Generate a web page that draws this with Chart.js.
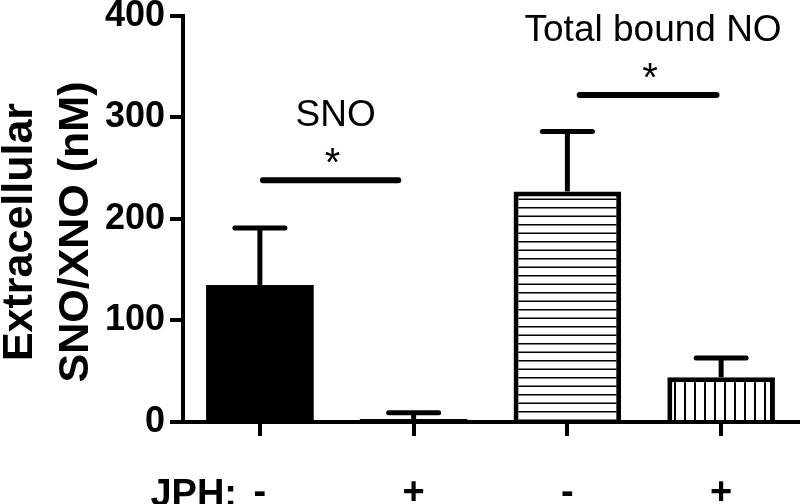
<!DOCTYPE html>
<html>
<head>
<meta charset="utf-8">
<script src="https://cdn.jsdelivr.net/npm/chart.js@4.4.0/dist/chart.umd.min.js"></script>
<style>
    html, body { margin: 0; padding: 0; background: #fff; }
</style>
</head>
<body>
<canvas id="canva" width="800" height="504"></canvas>
<script>
// datos
const categorias = ['-', '+', '-', '+'];
const valores = [135, 3, 227, 44];
const errores = [56, 6, 59, 19];
const ticksY = [0, 100, 200, 300, 400];
// lineas de significancia (posicion en categorias y altura en nM)
const sigTextos = ['SNO', 'Total bound NO'];
const sigDesde = [0.02, 2.08];
const sigHasta = [0.9, 2.97];
const sigAltura = [238, 322];
const tituloY = ['Extracellular', 'SNO/XNO (nM)'];
const tituloX = 'JPH:';

const fuente = "'Liberation Sans', Arial, sans-serif";
const ctx = document.getElementById("canva").getContext("2d");

function rayas(horizontal) {
    const c = document.createElement('canvas');
    c.width = horizontal ? 4 : 10;
    c.height = horizontal ? 17 : 4;
    const g = c.getContext('2d');
    g.fillStyle = '#fff';
    g.fillRect(0, 0, c.width, c.height);
    g.fillStyle = '#000';
    if (horizontal) {
        g.fillRect(0, 3, 4, 1.5);
        g.fillRect(0, 11.5, 4, 1.5);
    } else {
        g.fillRect(4, 0, 2, 4);
    }
    return ctx.createPattern(c, 'repeat');
}

const errorBars = {
    id: 'errorBars',
    afterDatasetsDraw(chart) {
        const c = chart.ctx;
        const y = chart.scales.y;
        const meta = chart.getDatasetMeta(0);
        c.save();
        c.strokeStyle = '#000';
        c.lineWidth = 5;
        meta.data.forEach((bar, i) => {
            const top = y.getPixelForValue(valores[i] + errores[i]);
            c.lineCap = 'butt';
            c.beginPath();
            c.moveTo(bar.x, bar.y);
            c.lineTo(bar.x, top);
            c.stroke();
            c.lineCap = 'round';
            c.beginPath();
            c.moveTo(bar.x - 25, top);
            c.lineTo(bar.x + 25, top);
            c.stroke();
        });
        c.restore();
    }
};

const anotaciones = {
    id: 'anotaciones',
    afterDraw(chart) {
        const c = chart.ctx;
        const x = chart.scales.x;
        const y = chart.scales.y;
        c.save();
        c.fillStyle = '#000';
        c.strokeStyle = '#000';
        // significancia
        sigTextos.forEach((txt, i) => {
            const x1 = x.getPixelForValue(sigDesde[i]);
            const x2 = x.getPixelForValue(sigHasta[i]);
            const yy = y.getPixelForValue(sigAltura[i]);
            c.lineWidth = 6;
            c.lineCap = 'round';
            c.beginPath();
            c.moveTo(x1, yy);
            c.lineTo(x2, yy);
            c.stroke();
            c.textAlign = 'center';
            c.textBaseline = 'alphabetic';
            c.font = `40px ${fuente}`;
            c.fillText('*', (x1 + x2) / 2 + 2, yy - 4);
            c.font = `37px ${fuente}`;
            c.fillText(txt, (x1 + x2) / 2 + 5, yy - 54);
        });
        // titulo eje y
        c.font = `bold 43px ${fuente}`;
        c.textAlign = 'center';
        c.textBaseline = 'alphabetic';
        const posX = [32, 88];
        tituloY.forEach((t, i) => {
            c.save();
            c.translate(posX[i], 232);
            c.rotate(-Math.PI / 2);
            c.fillText(t, 0, 0);
            c.restore();
        });
        // etiqueta eje x
        c.font = `bold 38px ${fuente}`;
        c.textAlign = 'right';
        c.fillText(tituloX, 237, 506);
        c.restore();
    }
};

const datax = {
    labels: categorias,
    datasets: [{
        data: valores,
        backgroundColor: ['#000', '#000', rayas(true), rayas(false)],
        borderColor: '#000',
        borderWidth: [0, 0, 5, 5],
        barPercentage: 0.7,
        categoryPercentage: 1
    }]
};

const config = {
    type: 'bar',
    data: datax,
    options: {
        responsive: false,
        animation: false,
        layout: { padding: { top: 13, right: 2, left: 0, bottom: 0 } },
        plugins: {
            legend: { display: false },
            tooltip: { enabled: false }
        },
        scales: {
            x: {
                offset: true,
                grid: { offset: false, drawOnChartArea: false, tickLength: 14, lineWidth: 4, color: '#000' },
                border: { width: 4, color: '#000' },
                ticks: { color: '#000', font: { size: 38, weight: 'bold', family: fuente }, padding: 35 },
                afterFit(scale) { scale.height = 82; }
            },
            y: {
                min: 0,
                max: 400,
                afterBuildTicks(scale) { scale.ticks = ticksY.map(v => ({ value: v })); },
                grid: { drawOnChartArea: false, tickLength: 13, lineWidth: 4, color: '#000' },
                border: { width: 4, color: '#000' },
                ticks: { color: '#000', font: { size: 36, weight: 'bold', family: fuente, lineHeight: 0.6 }, padding: 5 },
                afterFit(scale) { scale.width = 183; }
            }
        }
    },
    plugins: [errorBars, anotaciones]
};
const chart = new Chart(ctx, config);
</script>
</body>
</html>
